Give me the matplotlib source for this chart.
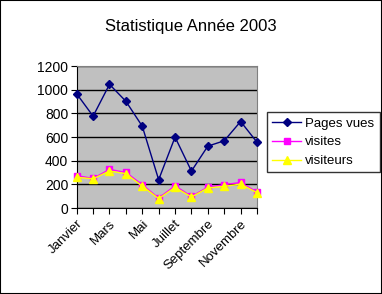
import matplotlib
matplotlib.use("Agg")
import matplotlib.pyplot as plt
from matplotlib.patches import Rectangle

months = ["Janvier", "Février", "Mars", "Avril", "Mai", "Juin", "Juillet",
          "Août", "Septembre", "Octobre", "Novembre", "Décembre"]
pages_vues = [965, 776, 1045, 902, 691, 239, 599, 312, 523, 568, 731, 556]
visites = [273, 250, 326, 301, 197, 84, 188, 98, 177, 197, 216, 135]
visiteurs = [259, 247, 312, 290, 185, 79, 174, 93, 169, 183, 202, 129]

plt.rcParams['font.family'] = ['Liberation Sans', 'DejaVu Sans']

fig = plt.figure(figsize=(3.82, 2.94), dpi=100)
fig.patch.set_facecolor('white')
fig.add_artist(Rectangle((0, 0), 1, 1, transform=fig.transFigure, fill=False,
                         edgecolor='black', linewidth=1.5))

ax = fig.add_axes([0.2008, 0.2925, 0.472, 0.483])
ax.set_facecolor('#C0C0C0')
x = list(range(len(months)))

ax.plot(x, pages_vues, color='#000080', marker='D', markersize=4.5, linewidth=1,
        label='Pages vues', clip_on=False, zorder=5)
ax.plot(x, visites, color='#FF00FF', marker='s', markersize=5, linewidth=1,
        label='visites', clip_on=False, zorder=6)
ax.plot(x, visiteurs, color='#FFFF00', marker='^', markersize=6, linewidth=1,
        label='visiteurs', clip_on=False, zorder=7)

ax.set_xlim(0, 11)
ax.set_ylim(0, 1200)
ax.set_yticks(range(0, 1201, 200))
ax.yaxis.grid(True, color='black', linewidth=1)
ax.set_axisbelow(True)
ax.set_xticks(x)
ax.set_xticklabels([m if i % 2 == 0 else '' for i, m in enumerate(months)],
                   rotation=45, ha='right', rotation_mode='anchor', fontsize=9.5)
ax.tick_params(axis='y', labelsize=10, direction='out', length=4, color='black', pad=2)
ax.tick_params(axis='x', direction='out', length=4, color='black', pad=3)
for s in ['top', 'right']:
    ax.spines[s].set_color('#808080')
for s in ['left', 'bottom']:
    ax.spines[s].set_color('black')

fig.text(0.5, 0.91, 'Statistique Année 2003', ha='center', va='center', fontsize=12)

leg = fig.legend(loc='upper left', bbox_to_anchor=(267/382, 1-112/294),
                 frameon=True, fancybox=False, fontsize=9.5, handlelength=2.2,
                 borderpad=0.4, labelspacing=0.5, handletextpad=0.3,
                 borderaxespad=0)
leg.get_frame().set_edgecolor('black')
leg.get_frame().set_linewidth(1)

fig.savefig('out.png', dpi=100)
